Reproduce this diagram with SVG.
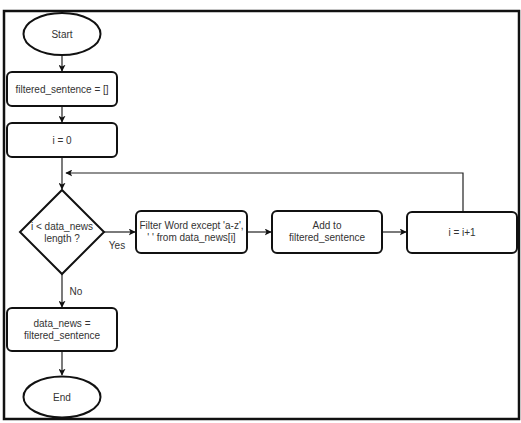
<svg xmlns="http://www.w3.org/2000/svg" width="521" height="423" viewBox="0 0 521 423">
<style>
.n{fill:#fff;stroke:#111;stroke-width:2}
.t{font-family:"Liberation Sans",Arial,sans-serif;font-size:10px;fill:#333;text-anchor:middle}
.c{fill:none;stroke:#222;stroke-width:1.2}
</style>
<defs>
<marker id="ah" viewBox="0 0 10 10" refX="9" refY="5" markerWidth="7" markerHeight="7" orient="auto" markerUnits="userSpaceOnUse">
<path d="M0,0 L10,5 L0,10 L2.5,5 Z" fill="#111"/>
</marker>
</defs>
<rect x="0" y="0" width="521" height="423" fill="#fff"/>
<rect x="4" y="11" width="515" height="408" fill="#fff" stroke="#111" stroke-width="2.5"/>
<g id="connectors">
<path class="c" d="M62,55 V71" marker-end="url(#ah)"/>
<path class="c" d="M62,106 V122" marker-end="url(#ah)"/>
<path class="c" d="M62,157 V189" marker-end="url(#ah)"/>
<path class="c" d="M104,232 H135" marker-end="url(#ah)"/>
<path class="c" d="M247,232 H271" marker-end="url(#ah)"/>
<path class="c" d="M382,232 H406" marker-end="url(#ah)"/>
<path class="c" d="M463,212 V173 H66" marker-end="url(#ah)"/>
<path class="c" d="M62,274 V307" marker-end="url(#ah)"/>
<path class="c" d="M62,351 V375" marker-end="url(#ah)"/>
<text class="t" x="117" y="249">Yes</text>
<text class="t" x="76" y="295">No</text>
</g>
<g id="start">
<ellipse class="n" cx="62" cy="34" rx="38.5" ry="21"/>
<text class="t" x="62" y="38">Start</text>
</g>
<g id="init-filtered">
<rect class="n" x="7" y="72" width="110" height="34" rx="5"/>
<text class="t" x="62" y="92.5">filtered_sentence = []</text>
</g>
<g id="init-i">
<rect class="n" x="7" y="123" width="110" height="34" rx="5"/>
<text class="t" x="62" y="143.5">i = 0</text>
</g>
<g id="decision">
<polygon class="n" points="62,190 104,232 62,274 20,232"/>
<text class="t" x="62" y="230">i &lt; data_news</text>
<text class="t" x="62" y="242">length ?</text>
</g>
<g id="filter">
<rect class="n" x="136" y="211" width="111" height="42" rx="5"/>
<text class="t" x="191.5" y="229">Filter Word except 'a-z',</text>
<text class="t" x="191.5" y="241">' ' from data_news[i]</text>
</g>
<g id="add">
<rect class="n" x="272" y="211" width="110" height="42" rx="5"/>
<text class="t" x="327" y="229">Add to</text>
<text class="t" x="327" y="241">filtered_sentence</text>
</g>
<g id="increment">
<rect class="n" x="407" y="212" width="110" height="41" rx="5"/>
<text class="t" x="462" y="236">i = i+1</text>
</g>
<g id="assign">
<rect class="n" x="7" y="308" width="110" height="43" rx="5"/>
<text class="t" x="62" y="327">data_news =</text>
<text class="t" x="62" y="339">filtered_sentence</text>
</g>
<g id="end">
<ellipse class="n" cx="62" cy="397" rx="38.5" ry="20.5"/>
<text class="t" x="62" y="401">End</text>
</g>
</svg>
